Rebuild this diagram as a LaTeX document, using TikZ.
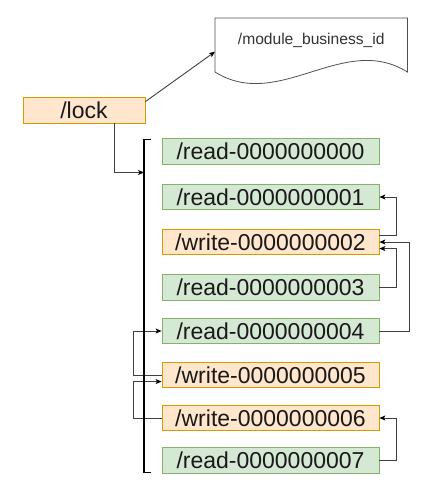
\documentclass[tikz,border=0pt]{standalone}
\usepackage{fontspec}
\setmainfont{Liberation Sans}
\usetikzlibrary{arrows.meta,calc}
\definecolor{greenfill}{HTML}{D5E8D4}
\definecolor{greenline}{HTML}{82B366}
\definecolor{orangefill}{HTML}{FFE6CC}
\definecolor{orangeline}{HTML}{D79B00}
\definecolor{wire}{HTML}{404040}
\definecolor{docline}{HTML}{505050}
\begin{document}
\begin{tikzpicture}[x=1pt,y=-1pt,
  keybox/.style={rectangle, minimum width=217pt, minimum height=25.5pt, inner sep=0pt,
    line width=0.8pt, font=\fontsize{23}{27}\selectfont, text=black!90},
  readbox/.style={keybox, fill=greenfill, draw=greenline},
  writebox/.style={keybox, fill=orangefill, draw=orangeline},
  conn/.style={draw=wire, line width=0.9pt,
    -{Stealth[length=6pt,width=5pt,inset=1.5pt,color=black]}},
  bracket/.style={draw=black, line width=1.3pt}]
\useasboundingbox (0,0) rectangle (435,504);

% root lock node and the business id document
\node[writebox, minimum width=122pt, minimum height=26pt] (lock) at (84,110) {/lock};
\node[minimum width=192pt, minimum height=64pt, inner sep=0pt, anchor=north west] (doc) at (215,18) {};
\draw[draw=docline, fill=white, line width=0.8pt]
  (doc.north west) -- (doc.north east) -- ($(doc.north east)+(0,54)$)
  .. controls ($(doc.north east)+(-64,14)$) and ($(doc.north west)+(64,94)$) .. ($(doc.north west)+(0,54)$)
  -- cycle;
\node[font=\fontsize{15.6}{18}\selectfont, text=black!80] (doclabel) at ($(doc.north)+(0,22)$) {/module\_business\_id};
\draw[conn] ($(lock.north east)+(0,5)$) -- ($(doc.west)+(0,1.5)$);

% sequential child nodes
\node[readbox]  (r0) at (270.5,151.5) {/read-0000000000};
\node[readbox]  (r1) at (270.5,197)   {/read-0000000001};
\node[writebox] (w2) at (270.5,242)   {/write-0000000002};
\node[readbox]  (r3) at (270.5,287.5) {/read-0000000003};
\node[readbox]  (r4) at (270.5,331)   {/read-0000000004};
\node[writebox] (w5) at (270.5,375)   {/write-0000000005};
\node[writebox] (w6) at (270.5,418)   {/write-0000000006};
\node[readbox]  (r7) at (270.5,460.5) {/read-0000000007};

% watch relations on the right
\draw[conn] ($(w2.north east)!0.25!(w2.south east)$) -- ++(17,0) |- (r1.east);
\draw[conn] (r3.east) -- ++(17,0) |- ($(w2.north east)!0.75!(w2.south east)$);
\draw[conn] (r4.east) -- ++(30,0) |- (w2.east);
\draw[conn] (r7.east) -- ++(17,0) |- (w6.east);

% watch relations on the left
\draw[conn] (w5.west) -- ++(-28,0) |- (r4.west);
\draw[conn] (w6.west) -- ++(-28,0) |- ($(w5.north west)!0.75!(w5.south west)$);

% bracket grouping the children
\coordinate (brtop) at (151,139.5);
\coordinate (brbot) at (151,472.5);
\coordinate (brin) at (144,172.5);
\draw[bracket] (brtop) -- ++(-7,0) |- (brbot);
\draw[conn] ($(lock.south west)!0.75!(lock.south east)$) |- (brin);
\end{tikzpicture}
\end{document}
